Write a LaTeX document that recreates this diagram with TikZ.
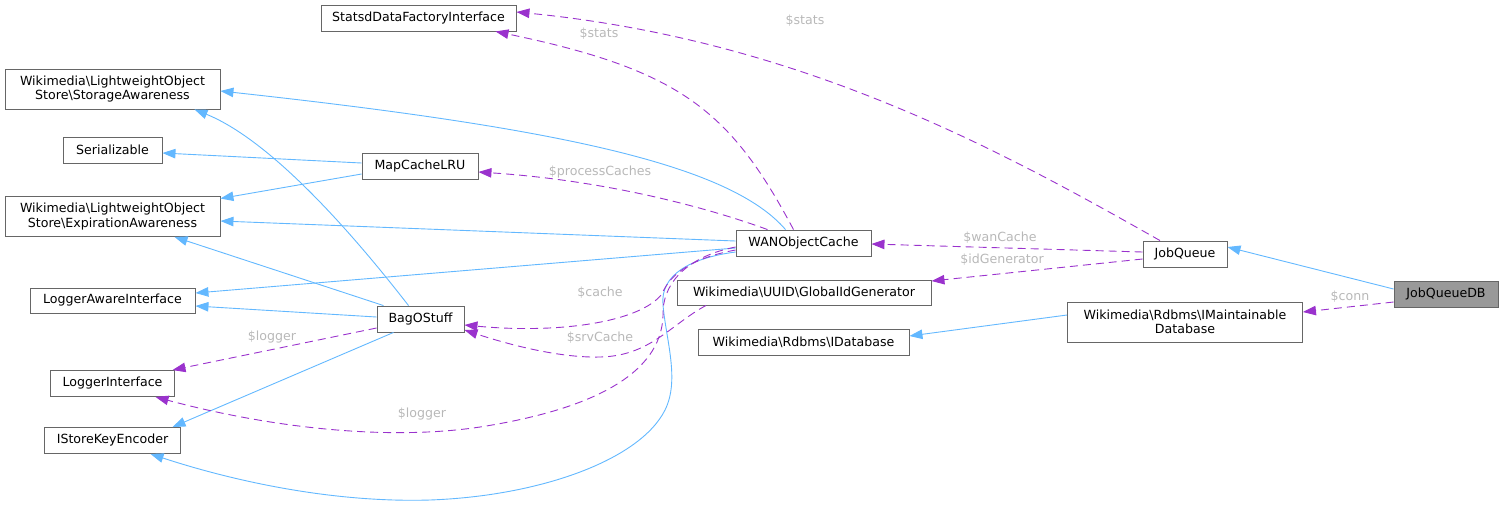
\documentclass[tikz,border=0pt]{standalone}
\usepackage{fontspec}
\setmainfont{DejaVu Sans}
\usetikzlibrary{arrows.meta,calc}
\definecolor{edgeblue}{HTML}{63B8FF}
\definecolor{edgepurple}{HTML}{9A32CD}
\definecolor{boxborder}{HTML}{666666}
\definecolor{labelgray}{HTML}{B8B8B8}
\definecolor{curfill}{HTML}{999999}
\newcommand{\bs}{\textbackslash}
\begin{document}
\begin{tikzpicture}[x=1pt,y=-1pt,
  box/.style={draw=boxborder,line width=0.9pt,fill=white,inner sep=0pt,align=center,
    font=\fontsize{12.6}{14.5}\selectfont},
  inh/.style={draw=edgeblue,line width=0.9pt,-{Triangle[length=13pt,width=9.5pt]},fill=none},
  uses/.style={draw=edgepurple,line width=0.9pt,dash pattern=on 8pt off 5pt,
    -{Triangle[length=13pt,width=9.5pt]}},
  lbl/.style={text=labelgray,font=\fontsize{12.6}{14.5}\selectfont,inner sep=0pt}]
\useasboundingbox (0,0) rectangle (1503,507);

% nodes
\node[box,minimum width=195pt,minimum height=26pt] (statsd) at (418.5,18) {StatsdDataFactoryInterface};
\node[box,minimum width=215pt,minimum height=40pt] (storage) at (112.5,89) {Wikimedia\bs LightweightObject\\Store\bs StorageAwareness};
\node[box,minimum width=99pt,minimum height=26pt] (serial) at (112.5,150) {Serializable};
\node[box,minimum width=116pt,minimum height=26pt] (mapcache) at (420,166) {MapCacheLRU};
\node[box,minimum width=215pt,minimum height=40pt] (expir) at (112.5,216.5) {Wikimedia\bs LightweightObject\\Store\bs ExpirationAwareness};
\node[box,minimum width=165pt,minimum height=25pt] (lai) at (112.5,300.5) {LoggerAwareInterface};
\node[box,minimum width=87pt,minimum height=26pt] (bag) at (420.5,319) {BagOStuff};
\node[box,minimum width=124pt,minimum height=26pt] (li) at (112.5,383.5) {LoggerInterface};
\node[box,minimum width=136pt,minimum height=26pt] (iske) at (112.5,440.5) {IStoreKeyEncoder};
\node[box,minimum width=135pt,minimum height=26pt] (wan) at (803.5,243) {WANObjectCache};
\node[box,minimum width=254pt,minimum height=25pt] (gid) at (804,292.5) {Wikimedia\bs UUID\bs GlobalIdGenerator};
\node[box,minimum width=211pt,minimum height=26pt] (idb) at (803.5,342) {Wikimedia\bs Rdbms\bs IDatabase};
\node[box,minimum width=84pt,minimum height=26pt] (jq) at (1185,254) {JobQueue};
\node[box,minimum width=235pt,minimum height=40pt] (imdb) at (1185,322) {Wikimedia\bs Rdbms\bs IMaintainable\\Database};
\node[box,fill=curfill,minimum width=104pt,minimum height=26pt] (jqdb) at (1446,294) {JobQueueDB};

% inheritance edges
\draw[inh] ($(jqdb.west)+(0,-5)$) -- ($(jq.east)+(0,-7)$);
\draw[inh] ($(imdb.west)+(0,-7)$) -- ($(idb.east)+(0,-6)$);
\draw[inh] ($(mapcache.west)+(0,-3)$) -- ($(serial.east)+(0,3)$);
\draw[inh] ($(mapcache.west)+(0,8)$) -- ($(expir.east)+(0,-18)$);
\draw[inh] ($(wan.north)+(-18,0)$) .. controls (730,165) and (560,128) .. ($(storage.east)+(0,2)$);
\draw[inh] ($(wan.west)+(0,-2)$) -- ($(expir.east)+(0,4.5)$);
\draw[inh] ($(wan.west)+(0,5)$) -- ($(lai.east)+(0,-7.5)$);
\draw[inh] ($(wan.west)+(0,9)$) .. controls (690,258) and (660,275) .. (663,305)
  .. controls (666,340) and (680,380) .. (665,410)
  .. controls (640,460) and (540,496) .. (430,500)
  .. controls (330,503) and (230,480) .. ($(iske.south)+(38,0)$);
\draw[inh] ($(bag.north)+(-12,0)$) .. controls (350,230) and (270,140) .. ($(storage.south)+(82,0)$);
\draw[inh] ($(bag.north)+(-37,0)$) -- ($(expir.south)+(62,0)$);
\draw[inh] ($(bag.west)+(0,-2)$) -- ($(lai.east)+(0,5.5)$);
\draw[inh] ($(bag.south)+(-27,0)$) -- ($(iske.north)+(60,0)$);

% usage edges
\draw[uses] ($(jq.north)+(-25,0)$) .. controls (1000,150) and (800,40) .. ($(statsd.east)+(0,-6)$);
\node[lbl] (l1) at (805,21) {\$stats};
\draw[uses] ($(wan.north)+(-10,0)$) .. controls (730,110) and (680,70) .. ($(statsd.south)+(77,0)$);
\node[lbl] (l2) at (599,34) {\$stats};
\draw[uses] ($(wan.north)+(-36,0)$) .. controls (700,205) and (600,180) .. ($(mapcache.east)+(0,6)$);
\node[lbl] (l3) at (600,172) {\$processCaches};
\draw[uses] ($(wan.west)+(0,7)$) .. controls (692,258) and (670,274) .. (662,294)
  .. controls (640,322) and (560,334) .. ($(bag.east)+(0,6)$);
\node[lbl] (l4) at (600,293) {\$cache};
\draw[uses] ($(gid.south)+(-98,0)$) .. controls (670,325) and (650,356) .. (600,357)
  .. controls (560,358) and (510,345) .. ($(bag.east)+(0,11)$);
\node[lbl] (l5) at (600,338) {\$srvCache};
\draw[uses] ($(bag.west)+(0,9)$) -- ($(li.north)+(60,0)$);
\node[lbl] (l6) at (272,337) {\$logger};
\draw[uses] ($(wan.west)+(0,4)$) .. controls (690,256) and (665,280) .. (663,310)
  .. controls (665,360) and (620,405) .. (480,427)
  .. controls (380,442) and (260,425) .. ($(li.south)+(43,0)$);
\node[lbl] (l7) at (422,414) {\$logger};
\draw[uses] ($(jq.west)+(0,-2)$) -- ($(wan.east)+(0,1)$);
\node[lbl] (l8) at (1000,238) {\$wanCache};
\draw[uses] ($(jq.west)+(0,5)$) -- ($(gid.east)+(0,-11.5)$);
\node[lbl] (l9) at (1002,260) {\$idGenerator};
\draw[uses] ($(jqdb.west)+(0,8)$) -- ($(imdb.east)+(0,-10)$);
\node[lbl] (l10) at (1350,297) {\$conn};
\end{tikzpicture}
\end{document}
